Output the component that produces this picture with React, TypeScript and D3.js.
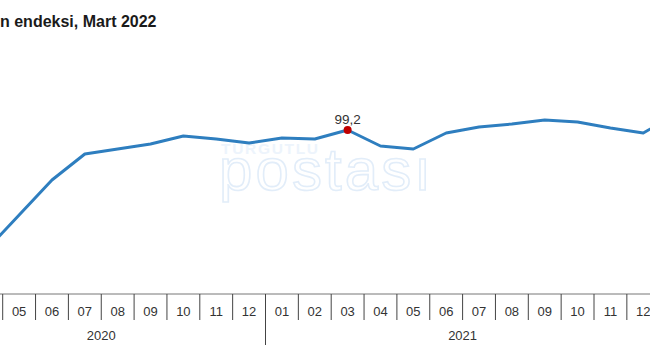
import React from 'react';
import * as d3 from 'd3';

// months shown on the axis (2020-03 .. 2022-01, the visible crop)
const months = ['2020-03', '2020-04', '2020-05', '2020-06', '2020-07', '2020-08', '2020-09', '2020-10', '2020-11', '2020-12',
  '2021-01', '2021-02', '2021-03', '2021-04', '2021-05', '2021-06', '2021-07', '2021-08', '2021-09', '2021-10', '2021-11', '2021-12',
  '2022-01'];
const values = [91.8, 51.2, 65.2, 79.2, 89.6, 91.6, 93.6, 96.8, 95.6, 94.0,
  96.0, 95.6, 99.2, 92.8, 91.6, 98.0, 100.4, 101.6, 103.2, 102.4, 100.0, 98.0,
  105.6];
const years = ['2020', '2021', '2022'];
const highlight = '2021-03';
const title = 'n endeksi, Mart 2022';

const W = 650;
const H = 360;
const axisY = 294;

export default function App() {
  const x = d3.scaleBand<string>()
    .domain(months)
    .range([-63, -63 + months.length * 32.85])
    .paddingInner(0)
    .paddingOuter(0);

  const y = d3.scaleLinear().domain([40, 110]).range([278, 103]);

  const cx = (m: string) => (x(m) as number) + x.bandwidth() / 2;

  const line = d3.line<number>()
    .x((d, i) => cx(months[i]))
    .y(d => y(d));

  const hv = values[months.indexOf(highlight)];

  // year groups
  const groups = years.map(yr => {
    const ms = months.filter(m => m.startsWith(yr));
    const x0 = x(ms[0]) as number;
    const x1 = (x(ms[ms.length - 1]) as number) + x.bandwidth();
    return { yr, x0, x1, full: ms.length };
  });

  return (
    <svg width={W} height={H} style={{ position: 'absolute', left: 0, top: 0, background: '#fff' }}
      fontFamily="Liberation Sans, Arial, sans-serif">
      <text x={0} y={27} fontSize={16} fontWeight="bold" fill="#1a1a1a">{title}</text>

      {/* watermark */}
      <g>
        <text x={221} y={154} fontSize={15.5} fontWeight="bold" fill="#edf4fc" textLength={97}>TURGUTLU</text>
        <text x={219} y={190} fontSize={60} fill="none" stroke="#e2edf9" strokeWidth={1.6} textLength={212}>postası</text>
      </g>

      <path d={line(values) || ''} fill="none" stroke="#2e7ebf" strokeWidth={3} strokeLinejoin="round" />
      <circle cx={cx(highlight)} cy={y(hv)} r={4} fill="#c00000" />
      <text x={cx(highlight)} y={124} textAnchor="middle" fontSize={13.5} fill="#333">
        {d3.format('.1f')(hv).replace('.', ',')}
      </text>

      {/* axis */}
      <line x1={0} x2={W} y1={axisY} y2={axisY} stroke="#777" strokeWidth={1} />
      {months.map(m => {
        const left = x(m) as number;
        const yearStart = m.endsWith('-01');
        const c = cx(m);
        return (
          <g key={m}>
            <line x1={left} x2={left} y1={axisY} y2={yearStart ? 345 : 320} stroke="#444" strokeWidth={1} />
            {c > 0 && c < W + 5 ? (
              <text x={c} y={316} textAnchor="middle" fontSize={13} fill="#333">{m.slice(5)}</text>
            ) : null}
          </g>
        );
      })}
      {groups.filter(g => g.full >= 10).map(g => (
        <text key={g.yr} x={(g.x0 + g.x1) / 2} y={340} textAnchor="middle" fontSize={13} fill="#333">{g.yr}</text>
      ))}
    </svg>
  );
}
